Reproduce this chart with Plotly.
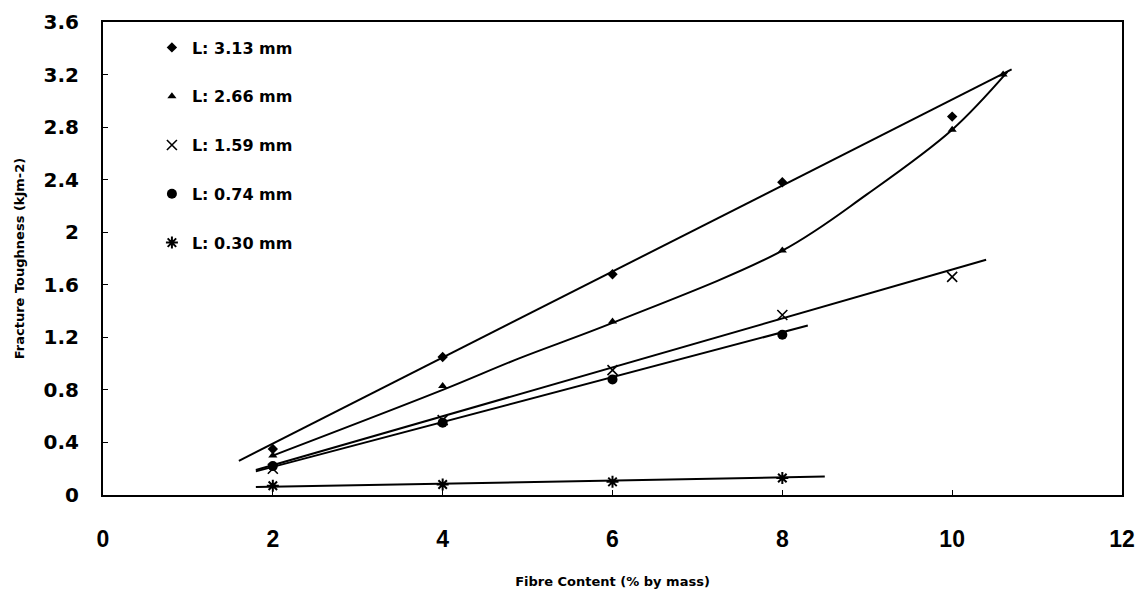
import plotly.graph_objects as go

# ---- data ----
labels = ["L: 3.13 mm", "L: 2.66 mm", "L: 1.59 mm", "L: 0.74 mm", "L: 0.30 mm"]

x_313 = [2, 4, 6, 8, 10]
y_313 = [0.35, 1.05, 1.68, 2.38, 2.88]
x_266 = [2, 4, 6, 8, 10, 10.6]
y_266 = [0.30, 0.83, 1.32, 1.86, 2.78, 3.20]
x_159 = [2, 4, 6, 8, 10]
y_159 = [0.20, 0.57, 0.95, 1.37, 1.66]
x_074 = [2, 4, 6, 8]
y_074 = [0.22, 0.55, 0.88, 1.22]
x_030 = [2, 4, 6, 8]
y_030 = [0.07, 0.08, 0.10, 0.13]

# fitted lines as drawn in the figure
fit_x_313 = [1.6, 10.7]
fit_y_313 = [0.26, 3.24]
fit_x_266 = [2.0, 4.0, 4.9, 6.0, 8.0, 9.0, 10.0, 10.65]
fit_y_266 = [0.30, 0.80, 1.04, 1.31, 1.86, 2.29, 2.78, 3.22]
fit_x_159 = [1.8, 10.4]
fit_y_159 = [0.19, 1.79]
fit_x_074 = [1.8, 8.3]
fit_y_074 = [0.18, 1.29]
fit_x_030 = [1.8, 8.5]
fit_y_030 = [0.06, 0.14]

x_ticks = [0, 2, 4, 6, 8, 10, 12]
y_ticks = [0, 0.4, 0.8, 1.2, 1.6, 2, 2.4, 2.8, 3.2, 3.6]
y_tick_text = ["0", "0.4", "0.8", "1.2", "1.6", "2", "2.4", "2.8", "3.2", "3.6"]

fig = go.Figure()

fits = [(fit_x_313, fit_y_313, "linear"), (fit_x_266, fit_y_266, "spline"),
        (fit_x_159, fit_y_159, "linear"), (fit_x_074, fit_y_074, "linear"),
        (fit_x_030, fit_y_030, "linear")]
for fx, fy, shape in fits:
    fig.add_trace(go.Scatter(x=fx, y=fy, mode="lines", showlegend=False,
                             line=dict(color="black", width=2, shape=shape),
                             hoverinfo="skip"))

pts = [(x_313, y_313, "diamond", 8, 0), (x_266, y_266, "triangle-up", 8, 0),
       (x_159, y_159, "x-thin", 10, 1.6), (x_074, y_074, "circle", 10, 0),
       (x_030, y_030, "asterisk", 10, 2)]
for i, (px, py, sym, sz, lw) in enumerate(pts):
    fig.add_trace(go.Scatter(x=px, y=py, mode="markers", name=labels[i],
                             legendgroup=str(i),
                             marker=dict(symbol=sym, size=sz, color="black",
                                         line=dict(color="black", width=lw))))

fig.update_layout(
    width=1137, height=593,
    margin=dict(l=103, r=15, t=22, b=98),
    paper_bgcolor="white", plot_bgcolor="white",
    font=dict(family="DejaVu Sans", color="black"),
    legend=dict(x=0.048, y=0.982, xanchor="left", yanchor="top",
                font=dict(size=16, family="DejaVu Sans", weight="bold"),
                tracegroupgap=25, bgcolor="rgba(0,0,0,0)", itemwidth=30),
    xaxis=dict(range=[0, 12], tickvals=x_ticks, showgrid=False, zeroline=False,
               showline=True, linecolor="black", linewidth=2, mirror=True,
               ticks="inside", ticklen=5, tickcolor="black",
               ticklabelstandoff=22, automargin=False,
               tickfont=dict(size=23, family="Liberation Sans", weight="bold"),
               title=dict(text="Fibre Content (% by mass)", standoff=26,
                          font=dict(size=13, weight="bold"))),
    yaxis=dict(range=[0, 3.6], tickvals=y_ticks, ticktext=y_tick_text,
               showgrid=False, zeroline=False,
               showline=True, linecolor="black", linewidth=2, mirror=True,
               ticks="inside", ticklen=5, tickcolor="black",
               ticklabelstandoff=18, automargin=False,
               tickfont=dict(size=20, family="DejaVu Sans", weight="bold"),
               title=dict(text="Fracture Toughness (kJm-2)", standoff=16,
                          font=dict(size=13, weight="bold"))),
)

fig.write_html("out.html",
               config={"displayModeBar": False},
               post_script="document.body.style.margin='0';"
                           "document.body.style.overflow='hidden';")
